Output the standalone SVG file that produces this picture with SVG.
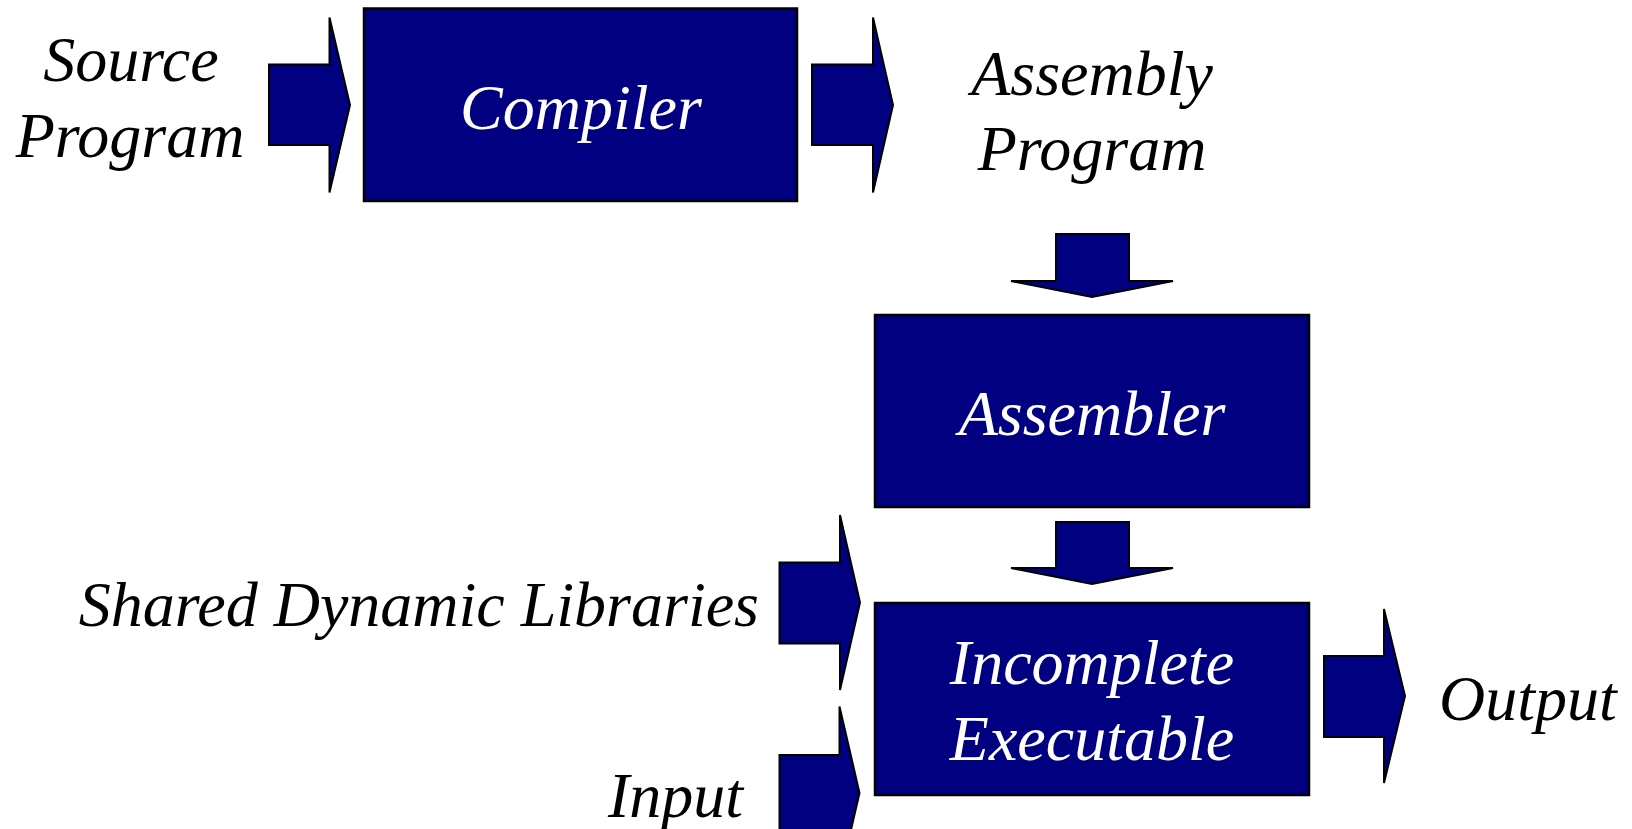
<svg xmlns="http://www.w3.org/2000/svg" width="1632" height="829" viewBox="0 0 1632 829">
<style>
.box{fill:#000080;stroke:#000;stroke-width:2.5}
.arr{fill:#000080;stroke:#000;stroke-width:2;stroke-linejoin:miter}
.t{font-family:"Liberation Serif","Times New Roman",serif;font-style:italic;font-size:64px}
.w{fill:#fff}
.k{fill:#000}
</style>
<rect width="1632" height="829" fill="#fff"/>
<g id="connectors">
<polygon class="arr" points="269,64.5 329.5,64.5 329.5,17.5 350,105 329.5,192.5 329.5,145 269,145"/>
<polygon class="arr" points="812,64.5 873,64.5 873,17.5 893,105 873,192.5 873,145 812,145"/>
<polygon class="arr" points="1056,234 1129,234 1129,281 1173,281 1092,297 1011,281 1056,281"/>
<polygon class="arr" points="1056,522 1129,522 1129,568 1173,568 1092,584 1011,568 1056,568"/>
<polygon class="arr" points="779.5,562.5 840,562.5 840,515 860,602.5 840,690 840,643.5 779.5,643.5"/>
<polygon class="arr" points="779.5,755 839.5,755 839.5,706.5 859.5,793 839.5,879.5 839.5,831 779.5,831"/>
<polygon class="arr" points="1324,656 1384,656 1384,609 1405,696 1384,783 1384,737 1324,737"/>
</g>
<g id="source-program">
<text class="t k" x="131" y="81" text-anchor="middle">Source</text>
<text class="t k" x="130" y="156.5" text-anchor="middle">Program</text>
</g>
<g id="compiler">
<rect class="box" x="364" y="8.5" width="433" height="192.5"/>
<text class="t w" x="581" y="128.5" text-anchor="middle">Compiler</text>
</g>
<g id="assembly-program">
<text class="t k" x="1092" y="95" text-anchor="middle">Assembly</text>
<text class="t k" x="1092" y="170" text-anchor="middle">Program</text>
</g>
<g id="assembler">
<rect class="box" x="875" y="315" width="434" height="192"/>
<text class="t w" x="1092" y="434.5" text-anchor="middle">Assembler</text>
</g>
<g id="shared-dynamic-libraries">
<text class="t k" x="759" y="626" text-anchor="end">Shared Dynamic Libraries</text>
</g>
<g id="input">
<text class="t k" x="743" y="816.5" text-anchor="end">Input</text>
</g>
<g id="incomplete-executable">
<rect class="box" x="875" y="603" width="434" height="192"/>
<text class="t w" x="1092" y="684" text-anchor="middle">Incomplete</text>
<text class="t w" x="1092" y="760" text-anchor="middle">Executable</text>
</g>
<g id="output">
<text class="t k" x="1439" y="720">Output</text>
</g>
</svg>
